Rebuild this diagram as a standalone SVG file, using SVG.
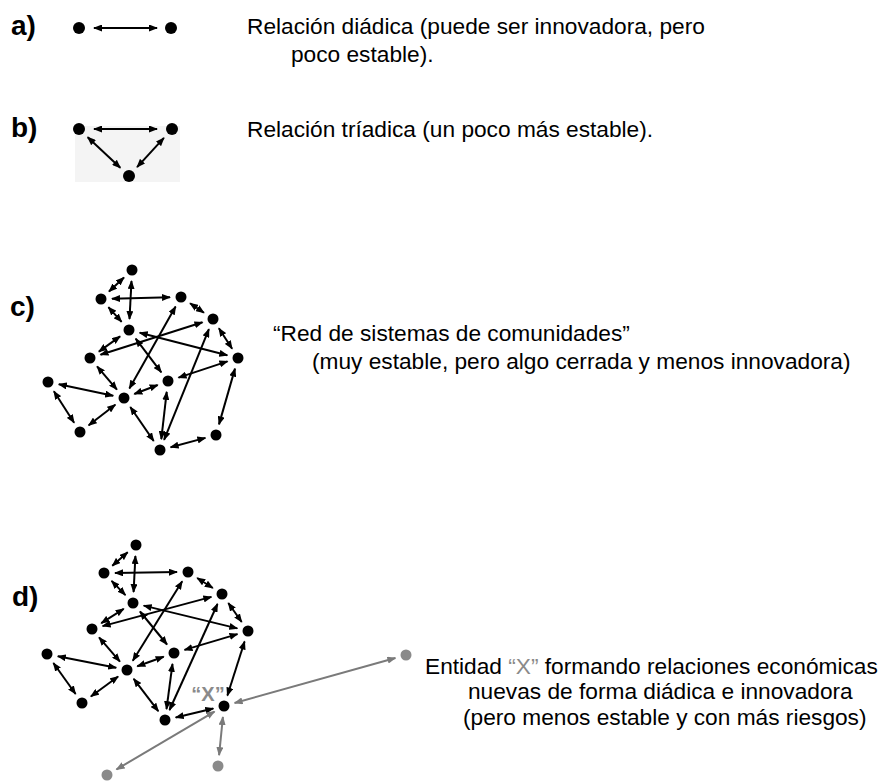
<svg xmlns="http://www.w3.org/2000/svg" width="880" height="782" viewBox="0 0 880 782">
<defs>
<style>
.lbl{font-family:"Liberation Sans",Arial,sans-serif;font-weight:bold;font-size:28px;fill:#000}
.txt{font-family:"Liberation Sans",Arial,sans-serif;font-size:22.7px;fill:#000}
.gx{fill:#8a8a8a}
.e{stroke:#000;stroke-width:2;fill:none;marker-start:url(#ah);marker-end:url(#ah)}
.g{stroke:#7a7a7a;stroke-width:2;fill:none;marker-start:url(#gh);marker-end:url(#gh)}
.n{fill:#000}
.gn{fill:#8a8a8a}
</style>
<marker id="ah" markerUnits="userSpaceOnUse" markerWidth="9" markerHeight="7" refX="8" refY="3.5" orient="auto-start-reverse"><path d="M0,0 L9,3.5 L0,7 z" fill="#000"/></marker>
<marker id="gh" markerUnits="userSpaceOnUse" markerWidth="9" markerHeight="7" refX="8" refY="3.5" orient="auto-start-reverse"><path d="M0,0 L9,3.5 L0,7 z" fill="#7a7a7a"/></marker>
</defs>
<rect width="880" height="782" fill="#fff"/>

<g id="labels">
<text class="lbl" x="11" y="35">a)</text>
<text class="lbl" x="11" y="137">b)</text>
<text class="lbl" x="10" y="316">c)</text>
<text class="lbl" x="12" y="606">d)</text>
</g>

<g id="texts">
<text class="txt" x="247" y="34">Relación diádica (puede ser innovadora, pero</text>
<text class="txt" x="291" y="62">poco estable).</text>
<text class="txt" x="247" y="137">Relación tríadica (un poco más estable).</text>
<text class="txt" x="273" y="341">“Red de sistemas de comunidades”</text>
<text class="txt" x="312" y="369">(muy estable, pero algo cerrada y menos innovadora)</text>
<text class="txt" x="425" y="674">Entidad <tspan class="gx">“X”</tspan> formando relaciones económicas</text>
<text class="txt" x="468" y="699">nuevas de forma diádica e innovadora</text>
<text class="txt" x="463" y="725">(pero menos estable y con más riesgos)</text>
</g>

<rect id="b-bg" x="75" y="126" width="105" height="56" fill="#f4f4f4"/>

<g id="connectors">
<!-- a -->
<line class="e" x1="94" y1="28" x2="157" y2="28"/>
<!-- b -->
<line class="e" x1="94" y1="129" x2="157" y2="129"/>
<line class="e" x1="87.7" y1="137.2" x2="120.3" y2="167.8"/>
<line class="e" x1="163.9" y1="137.9" x2="137.1" y2="167.1"/>
<!-- c -->
<line class="e" x1="124.0" y1="277.5" x2="109.0" y2="291.5"/>
<line class="e" x1="131.5" y1="281.0" x2="129.5" y2="319.0"/>
<line class="e" x1="112" y1="298.7" x2="170" y2="297.3"/>
<line class="e" x1="108.4" y1="307.2" x2="121.6" y2="321.8"/>
<line class="e" x1="190.1" y1="303.2" x2="203.9" y2="312.8"/>
<line class="e" x1="175.6" y1="306.6" x2="129.4" y2="388.4"/>
<line class="e" x1="202.5" y1="322.3" x2="100.5" y2="354.7"/>
<line class="e" x1="120.1" y1="336.4" x2="98.9" y2="351.6"/>
<line class="e" x1="139.7" y1="332.7" x2="227.3" y2="355.3"/>
<line class="e" x1="218.9" y1="328.3" x2="232.1" y2="348.7"/>
<line class="e" x1="208.9" y1="329.2" x2="164.1" y2="439.8"/>
<line class="e" x1="135.7" y1="338.7" x2="161.3" y2="372.3"/>
<line class="e" x1="97.1" y1="366.4" x2="116.9" y2="389.6"/>
<line class="e" x1="58.8" y1="384.3" x2="113.2" y2="395.7"/>
<line class="e" x1="53.9" y1="391.3" x2="74.1" y2="422.7"/>
<line class="e" x1="88.7" y1="425.3" x2="115.3" y2="404.7"/>
<line class="e" x1="134.3" y1="394.0" x2="157.7" y2="385.0"/>
<line class="e" x1="178.5" y1="377.6" x2="227.5" y2="361.4"/>
<line class="e" x1="166.7" y1="391.9" x2="161.3" y2="439.1"/>
<line class="e" x1="130.3" y1="407.0" x2="153.7" y2="441.0"/>
<line class="e" x1="235.0" y1="368.6" x2="219.0" y2="424.4"/>
<line class="e" x1="205.4" y1="437.9" x2="170.6" y2="447.2"/>
<!-- d -->
<line class="e" x1="127.7" y1="552.2" x2="112.3" y2="565.8"/>
<line class="e" x1="135.4" y1="556.0" x2="133.6" y2="592.0"/>
<line class="e" x1="115" y1="572.9" x2="177" y2="572.1"/>
<line class="e" x1="111.6" y1="580.9" x2="125.4" y2="595.1"/>
<line class="e" x1="197.2" y1="578.0" x2="212.8" y2="588.0"/>
<line class="e" x1="182.2" y1="581.3" x2="132.8" y2="660.7"/>
<line class="e" x1="211.4" y1="596.9" x2="102.6" y2="626.1"/>
<line class="e" x1="123.7" y1="608.9" x2="101.3" y2="623.1"/>
<line class="e" x1="143.7" y1="605.6" x2="237.3" y2="628.4"/>
<line class="e" x1="228.3" y1="603.0" x2="241.7" y2="622.0"/>
<line class="e" x1="217.5" y1="604.0" x2="169.5" y2="710.0"/>
<line class="e" x1="140.0" y1="611.5" x2="167.0" y2="644.5"/>
<line class="e" x1="99.1" y1="637.4" x2="119.9" y2="661.6"/>
<line class="e" x1="57.8" y1="656.2" x2="116.2" y2="667.8"/>
<line class="e" x1="53.4" y1="663.0" x2="75.6" y2="694.0"/>
<line class="e" x1="90.9" y1="696.5" x2="118.1" y2="676.5"/>
<line class="e" x1="137.3" y1="666.3" x2="163.7" y2="656.7"/>
<line class="e" x1="184.5" y1="649.9" x2="237.5" y2="634.1"/>
<line class="e" x1="172.5" y1="663.9" x2="166.5" y2="709.1"/>
<line class="e" x1="133.7" y1="678.8" x2="158.3" y2="711.2"/>
<line class="e" x1="244.6" y1="641.5" x2="227.4" y2="695.5"/>
<line class="e" x1="213.3" y1="708.5" x2="175.7" y2="717.5"/>
<line class="g" x1="234.6" y1="703.0" x2="395.4" y2="658.0"/>
<line class="g" x1="222.9" y1="717.0" x2="219.1" y2="755.1"/>
<line class="g" x1="214.5" y1="711.6" x2="116.5" y2="769.4"/>
</g>

<g id="a1"><circle class="n" cx="79" cy="28" r="6"/></g>
<g id="a2"><circle class="n" cx="171" cy="28" r="6"/></g>
<g id="b1"><circle class="n" cx="79" cy="129" r="6"/></g>
<g id="b2"><circle class="n" cx="172" cy="129" r="6"/></g>
<g id="b3"><circle class="n" cx="129" cy="176" r="6"/></g>

<g id="c1"><circle class="n" cx="132" cy="270" r="5.5"/></g>
<g id="c2"><circle class="n" cx="101" cy="299" r="5.5"/></g>
<g id="c3"><circle class="n" cx="181" cy="297" r="5.5"/></g>
<g id="c4"><circle class="n" cx="129" cy="330" r="5.5"/></g>
<g id="c5"><circle class="n" cx="213" cy="319" r="5.5"/></g>
<g id="c6"><circle class="n" cx="90" cy="358" r="5.5"/></g>
<g id="c7"><circle class="n" cx="238" cy="358" r="5.5"/></g>
<g id="c8"><circle class="n" cx="48" cy="382" r="5.5"/></g>
<g id="c9"><circle class="n" cx="168" cy="381" r="5.5"/></g>
<g id="c10"><circle class="n" cx="124" cy="398" r="5.5"/></g>
<g id="c11"><circle class="n" cx="80" cy="432" r="5.5"/></g>
<g id="c12"><circle class="n" cx="216" cy="435" r="5.5"/></g>
<g id="c13"><circle class="n" cx="160" cy="450" r="5.5"/></g>

<g id="d1"><circle class="n" cx="136" cy="545" r="5.5"/></g>
<g id="d2"><circle class="n" cx="104" cy="573" r="5.5"/></g>
<g id="d3"><circle class="n" cx="188" cy="572" r="5.5"/></g>
<g id="d4"><circle class="n" cx="133" cy="603" r="5.5"/></g>
<g id="d5"><circle class="n" cx="222" cy="594" r="5.5"/></g>
<g id="d6"><circle class="n" cx="92" cy="629" r="5.5"/></g>
<g id="d7"><circle class="n" cx="248" cy="631" r="5.5"/></g>
<g id="d8"><circle class="n" cx="47" cy="654" r="5.5"/></g>
<g id="d9"><circle class="n" cx="174" cy="653" r="5.5"/></g>
<g id="d10"><circle class="n" cx="127" cy="670" r="5.5"/></g>
<g id="d11"><circle class="n" cx="82" cy="703" r="5.5"/></g>
<g id="d13"><circle class="n" cx="165" cy="720" r="5.5"/></g>
<g id="dx"><circle class="n" cx="224" cy="706" r="5.5"/><text x="208" y="701" text-anchor="middle" font-family="Liberation Sans, Arial, sans-serif" font-weight="bold" font-size="20" fill="#8a8a8a">“X”</text></g>
<g id="g1"><circle class="gn" cx="406" cy="655" r="5.5"/></g>
<g id="g2"><circle class="gn" cx="218" cy="766" r="5.5"/></g>
<g id="g3"><circle class="gn" cx="107" cy="775" r="5.5"/></g>
</svg>
